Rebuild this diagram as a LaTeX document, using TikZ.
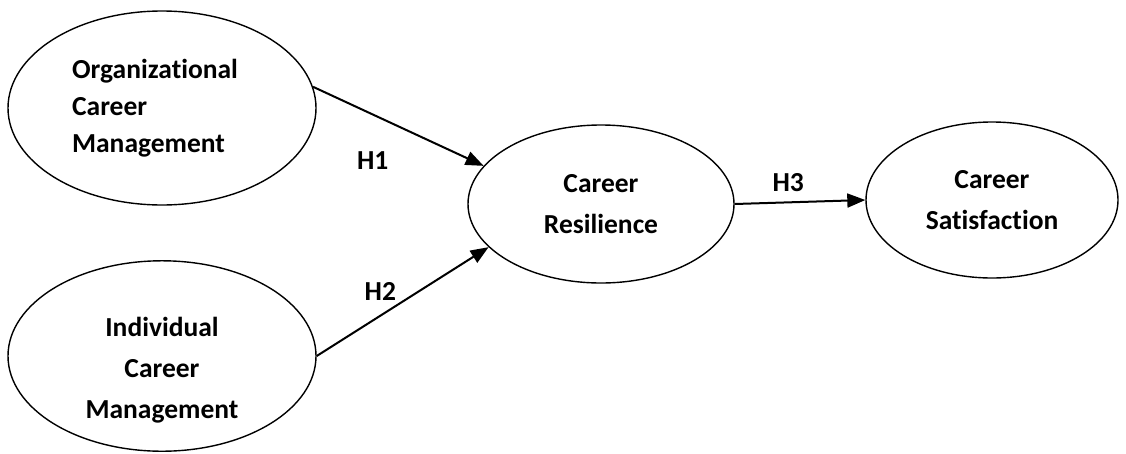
\documentclass[tikz,border=0pt]{standalone}
\usepackage{fontspec}
\setmainfont{Carlito}[Ligatures={NoCommon}]
\usetikzlibrary{arrows.meta,positioning,shapes.geometric}

\begin{document}
\begin{tikzpicture}[x=1pt, y=-1pt,
  var/.style={draw, ellipse, line width=1.4pt, inner sep=0pt, align=center,
              font=\fontsize{27.5}{41}\selectfont\bfseries},
  arr/.style={-{Triangle[length=18pt, width=14pt]}, line width=2pt},
  lab/.style={font=\fontsize{27.5}{30}\selectfont\bfseries, inner sep=0pt}]
\useasboundingbox (0,0) rectangle (1126,453);
\node[var, minimum width=308pt, minimum height=194pt, align=left,
      font=\fontsize{27.5}{37}\selectfont\bfseries] (ocm) at (162,108)
  {Organizational\hspace*{14pt}\\ Career\\ Management};
\node[var, minimum width=308pt, minimum height=188pt] (icm) at (162,356)
  {\\[7pt] Individual\\ Career\\ Management};
\node[var, minimum width=266pt, minimum height=158pt] (cr) at (601,204)
  {Career\\ Resilience};
\node[var, minimum width=252pt, minimum height=156pt] (cs) at (992,200)
  {Career\\ Satisfaction};
\draw[arr] (ocm.8) -- (cr.162) node[lab, pos=0.35, below=36pt]{H1};
\draw[arr] (icm.east) -- (cr.201) node[lab, pos=0.37, above=14pt]{H2};
\draw[arr] (cr.east) -- (cs.west) node[lab, pos=0.41, above=10pt]{H3};
\end{tikzpicture}
\end{document}
